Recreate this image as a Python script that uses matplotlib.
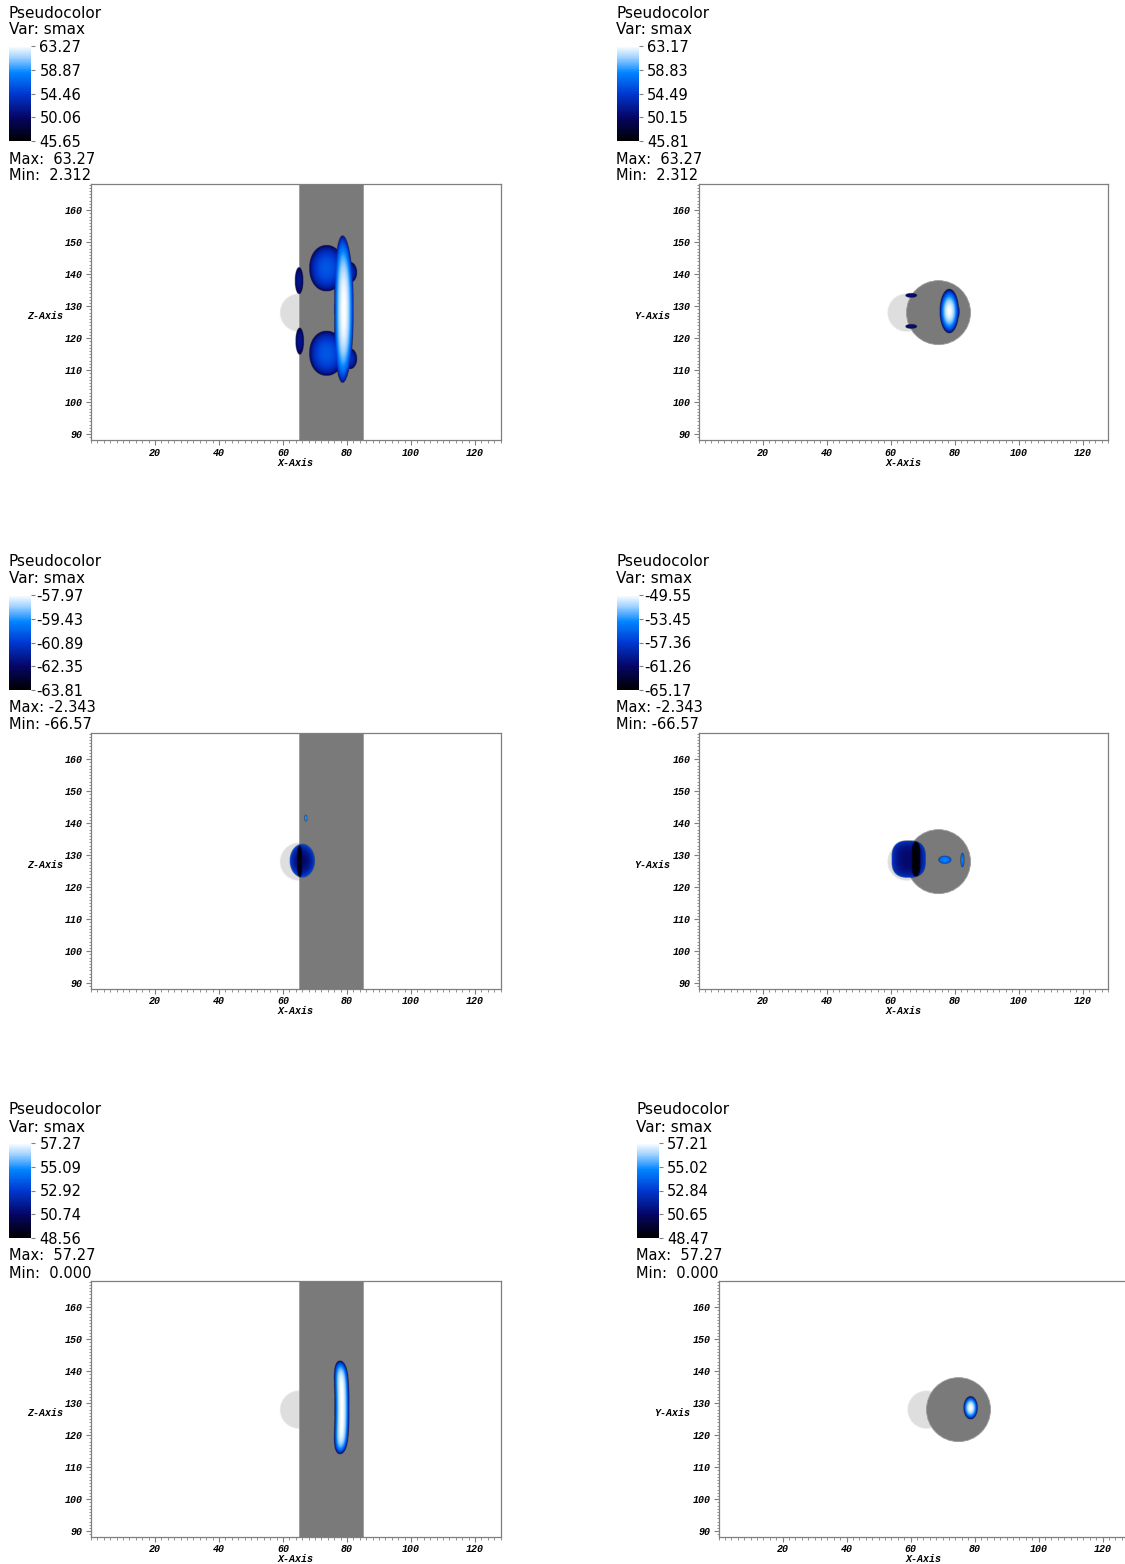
import numpy as np
import matplotlib
matplotlib.use("Agg")
import matplotlib.pyplot as plt
from matplotlib.colors import LinearSegmentedColormap, Normalize
from matplotlib.patches import Circle, Rectangle
from matplotlib.ticker import MultipleLocator
from matplotlib.cm import ScalarMappable
from matplotlib.font_manager import FontProperties

W, H = 1125, 1564
DPI = 100

# ---- data -----------------------------------------------------------------
VAR_NAME = "smax"
VIEWS = ["XZ", "XY", "XZ", "XY", "XZ", "XY"]
BAR_MIN = [45.65, 45.81, -63.81, -65.17, 48.56, 48.47]
BAR_MAX = [63.27, 63.17, -57.97, -49.55, 57.27, 57.21]
BAR_LABELS = [
    ["45.65", "50.06", "54.46", "58.87", "63.27"],
    ["45.81", "50.15", "54.49", "58.83", "63.17"],
    ["-63.81", "-62.35", "-60.89", "-59.43", "-57.97"],
    ["-65.17", "-61.26", "-57.36", "-53.45", "-49.55"],
    ["48.56", "50.74", "52.92", "55.09", "57.27"],
    ["48.47", "50.65", "52.84", "55.02", "57.21"],
]
DATA_MAX = ["63.27", "63.27", "-2.343", "-2.343", "57.27", "57.27"]
DATA_MIN = ["2.312", "2.312", "-66.57", "-66.57", "0.000", "0.000"]
COMBINE = ["max", "max", "min", "min", "max", "max"]

# obstacle geometry (data units)
SPHERE_CENTER = (65.0, 128.0)
SPHERE_RADIUS = 5.75
CYL_X_RANGE = (65.0, 85.0)
CYL_CENTER = (75.0, 128.0)
CYL_RADIUS = 10.0

X_LIM = (0.0, 128.0)
Y_LIM = (88.2, 168.2)
X_TICKS = [20, 40, 60, 80, 100, 120]
Y_TICKS = [90, 100, 110, 120, 130, 140, 150, 160]

# smax iso-regions: (cx, cy, rx, ry, centre value, rim value, px, py, bend)
REGIONS_1 = [
    (73.6, 141.8, 5.4, 7.2, 56.0, 48.5, 2.1, 2.1, 0.0),
    (73.6, 115.2, 5.4, 7.0, 56.0, 48.5, 2.1, 2.1, 0.0),
    (81.0, 140.5, 2.1, 3.2, 53.5, 48.5, 2, 2, 0.0),
    (81.0, 113.5, 2.1, 3.2, 53.5, 48.5, 2, 2, 0.0),
    (79.0, 129.0, 3.0, 23.0, 63.27, 50.0, 2, 2.5, -0.4),
    (65.0, 137.9, 1.3, 4.2, 51.5, 48.5, 2, 2, 0.0),
    (65.2, 119.0, 1.3, 4.2, 51.5, 48.5, 2, 2, 0.0),
]
REGIONS_2 = [
    (78.2, 128.4, 3.0, 6.9, 63.17, 47.5, 2, 2, 0.0),
    (79.8, 128.2, 1.6, 3.0, 57.0, 47.5, 2, 2, 0.0),
    (66.3, 133.3, 1.8, 0.7, 51.0, 48.5, 2, 2, 0.0),
    (66.3, 123.6, 1.8, 0.7, 51.0, 48.5, 2, 2, 0.0),
]
REGIONS_3 = [
    (66.0, 128.2, 3.9, 5.2, -62.3, -60.2, 2, 2, 0.0),
    (65.2, 128.0, 0.8, 5.0, -63.7, -62.8, 2, 4, 0.0),
    (67.1, 141.5, 0.45, 1.0, -59.3, -60.3, 2, 2, 0.0),
]
REGIONS_4 = [
    (65.5, 128.7, 5.3, 5.8, -61.0, -56.5, 2.5, 3, 0.0),
    (67.8, 128.7, 1.4, 5.5, -65.0, -63.5, 2, 4, 0.0),
    (76.8, 128.5, 2.0, 1.2, -54.0, -57.5, 2, 2, 0.0),
    (82.3, 128.4, 0.6, 2.2, -54.0, -57.5, 2, 2, 0.0),
]
REGIONS_5 = [
    (78.4, 128.6, 2.3, 14.6, 57.27, 49.5, 2, 6, -0.6),
]
REGIONS_6 = [
    (78.6, 128.5, 2.2, 3.6, 57.21, 49.4, 2, 2, 0.0),
]
REGIONS = [REGIONS_1, REGIONS_2, REGIONS_3, REGIONS_4, REGIONS_5, REGIONS_6]

# ---- layout (pixels) ------------------------------------------------------
AX_LEFT = [91, 698.5, 91, 698.5, 91, 718.5]
AX_TOP = [184, 184, 733, 733, 1281, 1281]
PX_PER_UNIT = 3.2

CMAP = LinearSegmentedColormap.from_list(
    "smax_blue",
    [(0.0, (0, 0, 0)),
     (0.25, (0.02, 0.02, 0.40)),
     (0.5, (0.0, 0.22, 0.82)),
     (0.72, (0.0, 0.52, 1.0)),
     (0.88, (0.62, 0.82, 1.0)),
     (1.0, (1, 1, 1))])

TICK_FONT = dict(family="Liberation Mono", weight="bold", style="italic", size=7.2)
TITLE_FONT = dict(family="DejaVu Sans", size=11)
LEG_FONT = dict(family="DejaVu Sans", size=10.5)
FRAME = "#7f7f7f"
PROFILE_GAMMA = 0.6


def fx(px):
    return px / W


def fy(py):
    return 1 - py / H


def region_field(X, Y, regions, mode):
    field = np.full(X.shape, np.nan)
    for cx, cy, rx, ry, vc, ve, px, py, bend in regions:
        dy = (Y - cy) / ry
        dx = (X - (cx + bend * dy ** 2)) / rx
        q = np.abs(dx) ** px + np.abs(dy) ** py
        inside = q < 1
        v = np.full(X.shape, np.nan)
        v[inside] = ve + (vc - ve) * (1 - q[inside]) ** PROFILE_GAMMA
        field = np.fmax(field, v) if mode == "max" else np.fmin(field, v)
    return np.ma.masked_invalid(field)


fig = plt.figure(figsize=(W / DPI, H / DPI), dpi=DPI)

gx = np.arange(55, 95, 0.05)
gy = np.arange(100, 160, 0.05)
GX, GY = np.meshgrid(gx, gy)

ax_w = (X_LIM[1] - X_LIM[0]) * PX_PER_UNIT
ax_h = (Y_LIM[1] - Y_LIM[0]) * PX_PER_UNIT
tick_fp = FontProperties(**TICK_FONT)
leg_fp = FontProperties(**LEG_FONT)

for i in range(6):
    left, top = AX_LEFT[i], AX_TOP[i]
    ax = fig.add_axes([fx(left), fy(top + ax_h), ax_w / W, ax_h / H])
    ax.set_xlim(*X_LIM)
    ax.set_ylim(*Y_LIM)

    # obstacles: soft-edged sphere, then the cylinder
    ax.add_patch(Circle(SPHERE_CENTER, SPHERE_RADIUS + 0.25, facecolor="#ececec",
                        edgecolor="none", zorder=1))
    ax.add_patch(Circle(SPHERE_CENTER, SPHERE_RADIUS, facecolor="#dedede",
                        edgecolor="none", zorder=1))
    if VIEWS[i] == "XZ":
        ax.add_patch(Rectangle((CYL_X_RANGE[0], Y_LIM[0]),
                               CYL_X_RANGE[1] - CYL_X_RANGE[0],
                               Y_LIM[1] - Y_LIM[0],
                               facecolor="#7a7a7a", edgecolor="#9a9a9a",
                               linewidth=0.6, zorder=2))
    else:
        ax.add_patch(Circle(CYL_CENTER, CYL_RADIUS, facecolor="#7a7a7a",
                            edgecolor="#9a9a9a", linewidth=0.6, zorder=2))

    # pseudocolor field
    norm = Normalize(BAR_MIN[i], BAR_MAX[i])
    field = region_field(GX, GY, REGIONS[i], COMBINE[i])
    ax.imshow(field, cmap=CMAP, norm=norm, origin="lower",
              extent=(gx[0], gx[-1], gy[0], gy[-1]), interpolation="bilinear",
              zorder=3, aspect="auto")

    # axes styling
    for s in ax.spines.values():
        s.set_color(FRAME)
        s.set_linewidth(0.9)
    ax.set_xticks(X_TICKS)
    ax.set_yticks(Y_TICKS)
    ax.xaxis.set_minor_locator(MultipleLocator(2))
    ax.yaxis.set_minor_locator(MultipleLocator(1))
    ax.tick_params(which="major", direction="out", length=3.6, width=0.8,
                   color=FRAME, pad=2.2)
    ax.tick_params(which="minor", direction="out", length=1.8, width=0.6,
                   color=FRAME)
    ax.tick_params(axis="x", which="major", pad=1.8)
    for lab in ax.get_xticklabels() + ax.get_yticklabels():
        lab.set_fontproperties(tick_fp)
    ax.text(0.5, -22.5 / ax_h, "X-Axis", transform=ax.transAxes,
            ha="center", va="center", fontproperties=tick_fp)
    ax.text(-28 / ax_w, 0.5 - 4 / ax_h, "Z-Axis" if VIEWS[i] == "XZ" else "Y-Axis",
            transform=ax.transAxes, ha="right", va="center", fontproperties=tick_fp)

    # legend block
    lx = left - 82
    fig.text(fx(lx), fy(top - 171), "Pseudocolor", ha="left", va="center", **TITLE_FONT)
    fig.text(fx(lx), fy(top - 154), "Var: " + VAR_NAME, ha="left", va="center", **TITLE_FONT)
    cax = fig.add_axes([fx(lx), fy(top - 43), 22 / W, 95 / H])
    cb = fig.colorbar(ScalarMappable(norm=norm, cmap=CMAP), cax=cax)
    cb.outline.set_visible(False)
    cb.set_ticks(np.linspace(BAR_MIN[i], BAR_MAX[i], 5))
    cb.set_ticklabels(BAR_LABELS[i])
    cax.tick_params(length=3, width=0.8, color="#808080",
                    pad=1 if BAR_MIN[i] < 0 else 3)
    for lab in cax.get_yticklabels():
        lab.set_fontproperties(leg_fp)
    fig.text(fx(lx), fy(top - 25),
             "Max: " + ("" if DATA_MAX[i].startswith("-") else " ") + DATA_MAX[i],
             ha="left", va="center", **LEG_FONT)
    fig.text(fx(lx), fy(top - 8),
             "Min: " + ("" if DATA_MIN[i].startswith("-") else " ") + DATA_MIN[i],
             ha="left", va="center", **LEG_FONT)

fig.savefig("out.png", dpi=DPI)
